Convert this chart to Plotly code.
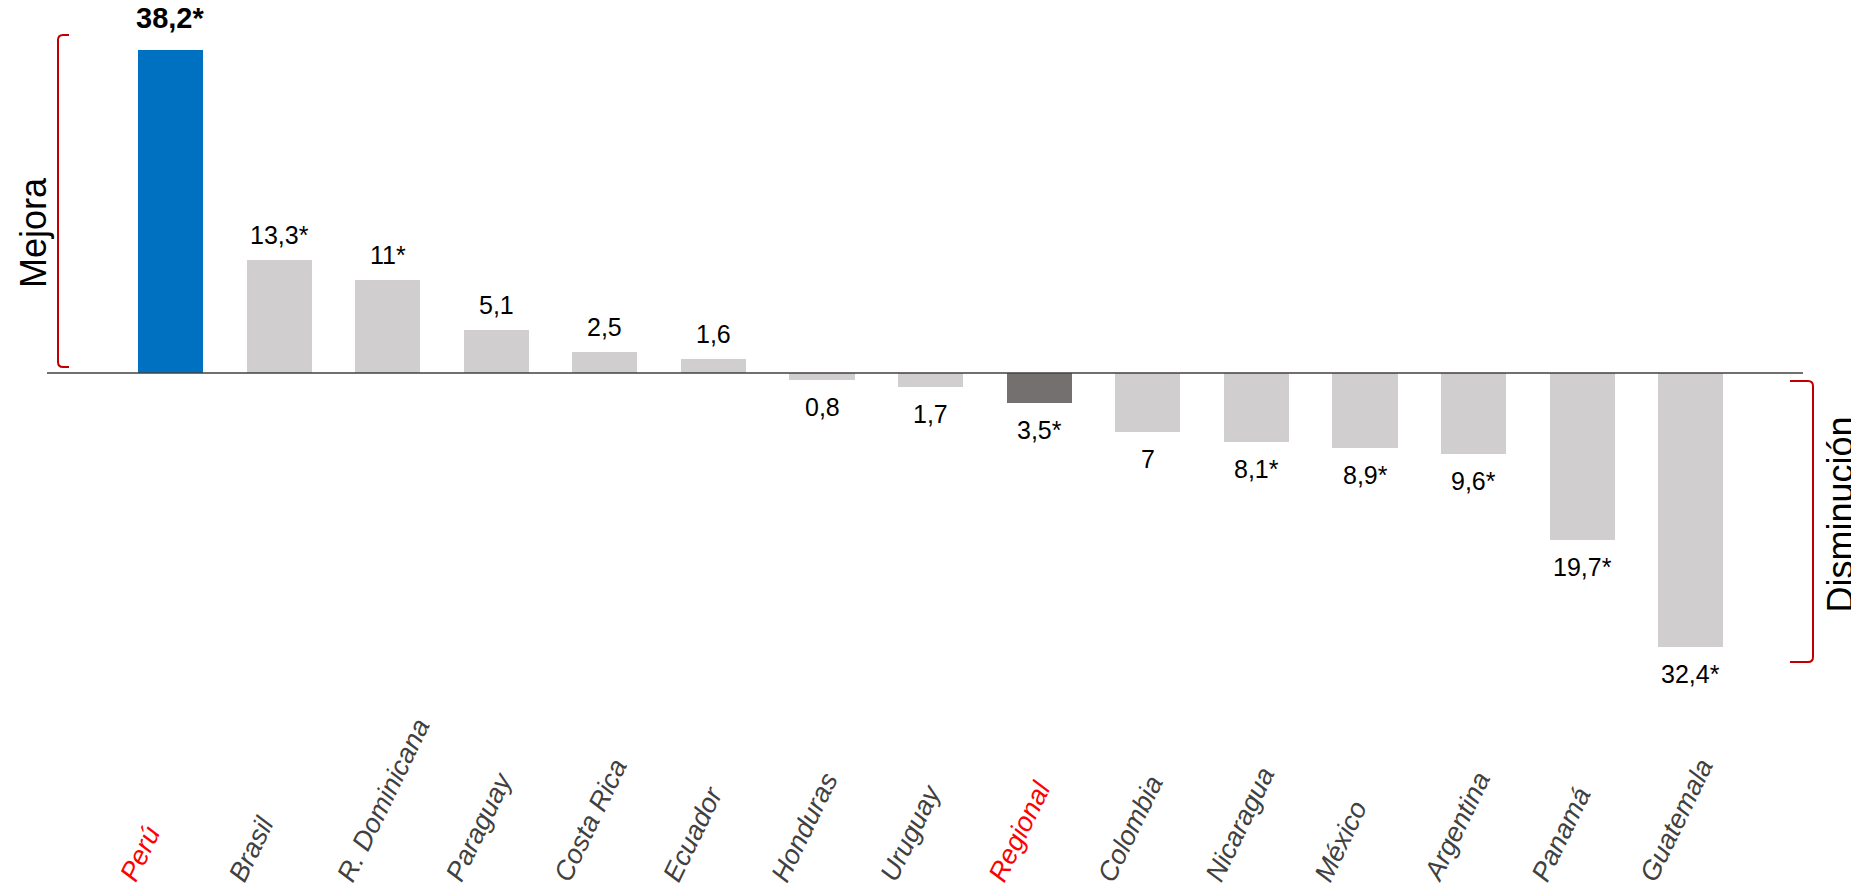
import plotly.graph_objects as go

# Variación por país (puntos); positivos = mejora, negativos = disminución
paises = ["Perú", "Brasil", "R. Dominicana", "Paraguay", "Costa Rica", "Ecuador",
          "Honduras", "Uruguay", "Regional", "Colombia", "Nicaragua", "México",
          "Argentina", "Panamá", "Guatemala"]
valores = [38.2, 13.3, 11.0, 5.1, 2.5, 1.6, -0.8, -1.7, -3.5, -7.0, -8.1, -8.9,
           -9.6, -19.7, -32.4]
etiquetas = ["38,2*", "13,3*", "11*", "5,1", "2,5", "1,6", "0,8", "1,7", "3,5*",
             "7", "8,1*", "8,9*", "9,6*", "19,7*", "32,4*"]

W, H = 1851, 891
AZUL, GRIS, GRIS_OSCURO = "#0070c0", "#d0cece", "#747070"
ROJO = "#c00000"
FUENTE = "Liberation Sans, Arial, sans-serif"


def px(x):
    return x / W


def py(y):
    return 1 - y / H


colores = []
for p in paises:
    if p == "Perú":
        colores.append(AZUL)
    elif p == "Regional":
        colores.append(GRIS_OSCURO)
    else:
        colores.append(GRIS)

xs = list(range(len(paises)))

fig = go.Figure(go.Bar(x=xs, y=valores, width=0.6, marker=dict(color=colores, line=dict(width=0)),
                       hoverinfo="skip"))

anotaciones = []
# Etiquetas de valor sobre/debajo de cada barra
for i, (v, t) in enumerate(zip(valores, etiquetas)):
    bold = (i == 0)
    anotaciones.append(dict(
        x=i, y=v, xref="x", yref="y", text=f"<b>{t}</b>" if bold else t,
        showarrow=False, xanchor="center",
        yanchor="bottom" if v >= 0 else "top",
        yshift=(14 if bold else 9) if v >= 0 else -11,
        font=dict(family=FUENTE, size=29 if bold else 25, color="#000000"),
    ))

# Nombres de país inclinados, alineados por abajo
for i, p in enumerate(paises):
    color = "#ff0000" if p in ("Perú", "Regional") else "#404040"
    anotaciones.append(dict(
        x=i, y=py(889), xref="x", yref="paper", text=f"<i>{p}</i>",
        showarrow=False, textangle=-64, xanchor="left", yanchor="bottom",
        xshift=-59,
        font=dict(family=FUENTE, size=27, color=color),
    ))

# Rótulos laterales
anotaciones.append(dict(
    x=px(33), y=py(233), xref="paper", yref="paper", text="Mejora",
    showarrow=False, textangle=-90, xanchor="center", yanchor="middle",
    font=dict(family=FUENTE, size=36, color="#000000"),
))
anotaciones.append(dict(
    x=px(1817), y=py(515), xref="paper", yref="paper", text="Disminución",
    showarrow=False, textangle=-90, xanchor="left", yanchor="middle",
    font=dict(family=FUENTE, size=36, color="#000000"),
))


def corchete(x_vert, x_tick, y0, y1):
    r = 5
    d = 1 if x_tick > x_vert else -1
    pts = (f"M {px(x_tick)},{py(y0)} L {px(x_vert + d * r)},{py(y0)} "
           f"Q {px(x_vert)},{py(y0)} {px(x_vert)},{py(y0 + r)} "
           f"L {px(x_vert)},{py(y1 - r)} "
           f"Q {px(x_vert)},{py(y1)} {px(x_vert + d * r)},{py(y1)} "
           f"L {px(x_tick)},{py(y1)}")
    return dict(type="path", xref="paper", yref="paper", path=pts,
                line=dict(color=ROJO, width=2))


formas = [
    dict(type="line", xref="paper", yref="y", x0=px(47), x1=px(1803), y0=0, y1=0,
         line=dict(color="#404040", width=1.5)),
    corchete(58, 69, 35, 367),
    corchete(1813, 1790, 381, 662),
]

fig.update_layout(
    width=W, height=H, autosize=False,
    margin=dict(l=0, r=0, t=0, b=0),
    paper_bgcolor="white", plot_bgcolor="white",
    showlegend=False,
    xaxis=dict(range=[-1.570, 15.475], visible=False, fixedrange=True),
    yaxis=dict(range=[-61.23, 44.09], visible=False, fixedrange=True),
    annotations=anotaciones,
    shapes=formas,
    bargap=0,
)

fig.write_html("out.html")
